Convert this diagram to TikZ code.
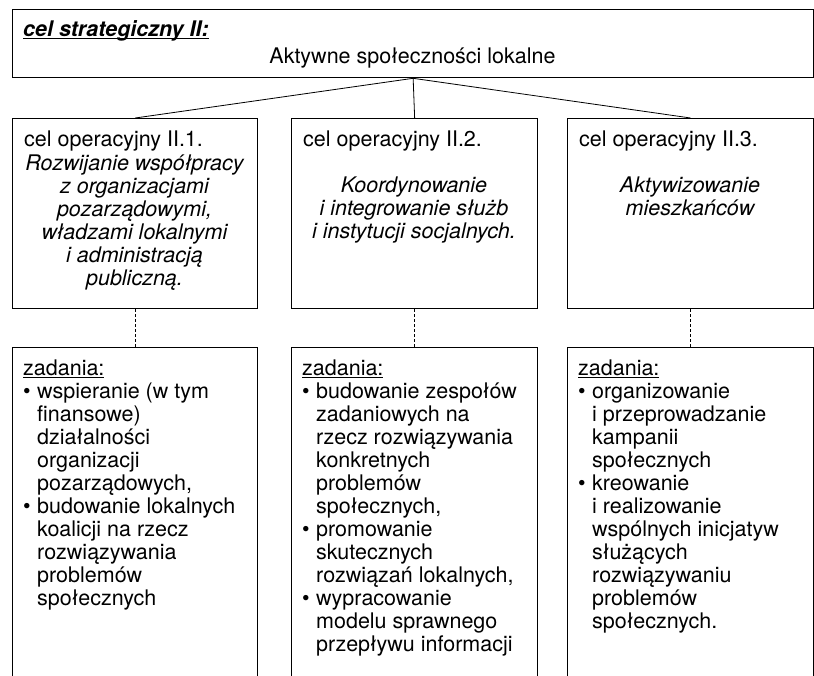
\documentclass[tikz,border=0pt]{standalone}
\usepackage{fontspec}
\setmainfont{TeX Gyre Heros}
\newcommand\fs{\fontsize{21.5}{23}\selectfont}
\newcommand\myul[1]{\leavevmode\setbox0\hbox{#1}\rlap{\rule[-2.8pt]{\wd0}{1.1pt}}\box0}
\newcommand\bul{\makebox[14pt][l]{•}}
\newcommand\ind{\hspace*{14pt}}
\tikzset{
  boxnode/.style={draw, line width=1.3pt, inner sep=0pt, anchor=north west},
  txt/.style={inner sep=0pt, font=\fs},
  link/.style={line width=0.8pt},
  dlink/.style={line width=0.7pt, dash pattern=on 3pt off 2pt}
}
\begin{document}
\begin{tikzpicture}[x=1pt,y=-1pt]
\useasboundingbox (0,0) rectangle (814,675);
\clip (0,0) rectangle (814,675);
% top box
\node[boxnode, minimum width=801pt, minimum height=68pt] (top) at (12,9) {};
\node[txt, anchor=base west] (tl) at (23,36) {\bfseries\itshape\myul{cel strategiczny II:}};
\node[txt, anchor=base] (tt) at (412.5,63) {Aktywne społeczności lokalne};
% operational boxes
\node[boxnode, minimum width=245pt, minimum height=190pt] (op1) at (12,118) {};
\node[boxnode, minimum width=246pt, minimum height=190pt] (op2) at (291,118) {};
\node[boxnode, minimum width=246pt, minimum height=190pt] (op3) at (567,118) {};
\node[txt, anchor=base west] (o1h) at (24,146) {cel operacyjny II.1.};
\node[txt, anchor=base west] (o2h) at (303,146) {cel operacyjny II.2.};
\node[txt, anchor=base west] (o3h) at (579,146) {cel operacyjny II.3.};
\node[txt, anchor=base] (o1t) at (134.5,170) {\parbox[t]{240pt}{\fs\centering\itshape
  Rozwijanie współpracy\\ z organizacjami\\ pozarządowymi,\\ władzami lokalnymi\\ i administracją\\ publiczną.}};
\node[txt, anchor=base] (o2t) at (414,192) {\parbox[t]{240pt}{\fs\centering\itshape
  Koordynowanie\\ i integrowanie służb\\ i instytucji socjalnych.}};
\node[txt, anchor=base] (o3t) at (690,192) {\parbox[t]{240pt}{\fs\centering\itshape
  Aktywizowanie\\ mieszkańców}};
% task boxes (open at the bottom edge of the picture)
\node[boxnode, minimum width=245pt, minimum height=360pt] (t1) at (12,347) {};
\node[boxnode, minimum width=246pt, minimum height=360pt] (t2) at (291,347) {};
\node[boxnode, minimum width=246pt, minimum height=360pt] (t3) at (567,347) {};
\node[txt, anchor=base west] (z1) at (23,375) {\parbox[t]{232pt}{\fs\raggedright
  \myul{zadania:}\\
  \bul wspieranie (w tym\\ \ind finansowe)\\ \ind działalności\\ \ind organizacji\\ \ind pozarządowych,\\
  \bul budowanie lokalnych\\ \ind koalicji na rzecz\\ \ind rozwiązywania\\ \ind problemów\\ \ind społecznych}};
\node[txt, anchor=base west] (z2) at (302,375) {\parbox[t]{232pt}{\fs\raggedright
  \myul{zadania:}\\
  \bul budowanie zespołów\\ \ind zadaniowych na\\ \ind rzecz rozwiązywania\\ \ind konkretnych\\ \ind problemów\\ \ind społecznych,\\
  \bul promowanie\\ \ind skutecznych\\ \ind rozwiązań lokalnych,\\
  \bul wypracowanie\\ \ind modelu sprawnego\\ \ind przepływu informacji}};
\node[txt, anchor=base west] (z3) at (578,375) {\parbox[t]{232pt}{\fs\raggedright
  \myul{zadania:}\\
  \bul organizowanie\\ \ind i przeprowadzanie\\ \ind kampanii\\ \ind społecznych\\
  \bul kreowanie\\ \ind i realizowanie\\ \ind wspólnych inicjatyw\\ \ind służących\\ \ind rozwiązywaniu\\ \ind problemów\\ \ind społecznych.}};
% connectors
\draw[link] (top.south) -- (op1.north);
\draw[link] (top.south) -- (op2.north);
\draw[link] (top.south) -- (op3.north);
\draw[dlink] (op1.south) -- (t1.north);
\draw[dlink] (op2.south) -- (t2.north);
\draw[dlink] (op3.south) -- (t3.north);
\end{tikzpicture}
\end{document}
